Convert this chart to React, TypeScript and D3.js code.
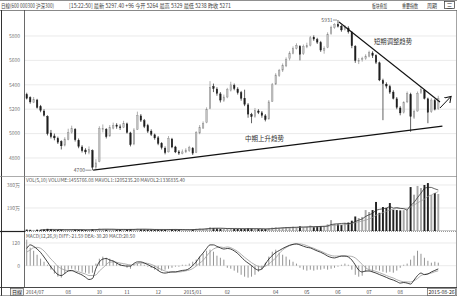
import React from 'react';
import * as d3 from 'd3';

const opens = [5320,5295,5255,5275,5220,5185,5140,5005,4980,4960,4935,4905,4950,5010,5035,4945,4890,4865,4845,4860,4725,4770,5035,5035,4980,5045,5070,5055,5050,5080,5005,4915,5035,5145,5105,5065,5020,4990,4965,4920,4880,4850,4955,4890,4850,4835,4850,4860,4880,4845,5005,5045,5090,5205,5385,5365,5325,5270,5300,5355,5395,5365,5335,5290,5235,5155,5140,5185,5170,5145,5120,5265,5405,5475,5520,5555,5615,5655,5700,5715,5655,5710,5725,5790,5770,5745,5680,5705,5820,5870,5895,5880,5855,5865,5830,5715,5600,5605,5615,5635,5660,5640,5580,5435,5405,5385,5340,5285,5210,5175,5260,5320,5135,5185,5335,5355,5285,5180,5270,5205];
const highs = [5335,5305,5300,5285,5235,5200,5150,5030,5000,4975,4945,4970,5040,5065,5045,4960,4905,4880,4895,4870,4790,5060,5075,5045,5070,5090,5085,5075,5105,5090,5015,5045,5180,5160,5120,5080,5035,5000,4980,4930,4895,4980,4965,4900,4865,4870,4880,4900,4890,5020,5070,5100,5215,5430,5410,5380,5340,5320,5375,5425,5410,5380,5350,5360,5250,5170,5210,5200,5185,5160,5275,5415,5495,5530,5575,5625,5675,5715,5740,5725,5730,5745,5800,5805,5785,5760,5715,5830,5885,5905,5931,5890,5890,5880,5840,5725,5620,5630,5650,5680,5675,5650,5590,5450,5420,5400,5355,5300,5225,5265,5345,5335,5195,5345,5385,5365,5295,5290,5285,5310];
const lows = [5280,5245,5250,5205,5175,5140,4985,4960,4945,4915,4870,4895,4945,5000,4935,4880,4845,4830,4830,4700,4705,4765,5010,4960,4975,5035,5040,5030,5045,5000,4895,4905,5030,5095,5045,5005,4980,4950,4905,4870,4830,4845,4880,4840,4825,4830,4840,4850,4825,4840,4995,5040,5085,5200,5340,5310,5255,5260,5290,5345,5355,5320,5270,5225,5130,5085,5130,5160,5130,5100,5115,5260,5400,5465,5505,5545,5600,5650,5690,5600,5645,5700,5715,5760,5735,5670,5655,5700,5810,5860,5870,5835,5845,5820,5700,5580,5570,5590,5605,5625,5620,5570,5430,5110,5370,5325,5280,5200,5150,5165,5250,5015,5120,5180,5325,5280,5085,5170,5190,5195];
const closes = [5290,5260,5280,5215,5190,5150,5000,4975,4965,4930,4900,4955,5010,5040,4950,4895,4860,4850,4870,4725,4760,5040,5040,4975,5050,5065,5060,5050,5085,5010,4910,5030,5150,5110,5060,5020,4995,4965,4920,4885,4845,4960,4890,4850,4840,4850,4865,4885,4840,5010,5050,5085,5200,5380,5370,5330,5275,5300,5360,5400,5370,5335,5290,5240,5160,5140,5190,5175,5150,5115,5260,5400,5480,5515,5560,5610,5660,5700,5720,5650,5715,5720,5785,5775,5750,5685,5700,5815,5870,5895,5880,5850,5870,5835,5720,5600,5600,5615,5635,5665,5640,5585,5440,5410,5390,5340,5290,5215,5170,5255,5330,5140,5180,5330,5360,5290,5175,5275,5200,5290];
const volumes = [12,10,9,11,10,12,18,14,10,9,11,10,12,13,11,10,9,8,10,16,14,20,15,12,14,13,12,11,13,12,15,14,18,15,13,12,11,10,11,12,11,16,13,12,10,11,10,12,13,18,20,17,22,30,25,22,18,17,20,22,18,17,16,18,22,20,16,17,15,16,22,28,30,26,28,30,32,35,30,38,30,35,45,32,38,40,41,55,90,60,55,50,66,70,85,120,107,116,173,157,173,240,150,198,190,231,175,173,170,172,173,363,300,372,355,380,396,297,314,306];
const diffs = [91,110,102,88,70,46,20,-7,-28,-47,-52,-41,-28,-25,-33,-41,-49,-61,-73,-68,-15,20,35,38,30,25,14,4,0,-2,-2,12,20,20,14,6,-4,-12,-25,-36,-39,-36,-33,-33,-29,-25,-23,-15,1,20,46,67,91,110,110,102,94,88,91,88,78,65,46,28,14,1,-15,-23,-17,9,35,54,70,80,91,100,108,113,115,110,103,97,94,86,78,71,62,51,44,41,46,51,51,46,30,4,-23,-33,-28,-28,-33,-39,-47,-54,-62,-70,-76,-84,-92,-89,-92,-97,-76,-52,-39,-47,-44,-33,-25,-17];
const deas = [72,83,95,97,92,78,57,35,17,-4,-15,-23,-26,-28,-28,-32,-38,-44,-52,-52,-49,-28,-12,6,19,20,18,14,11,7,4,7,12,14,14,12,7,-1,-12,-21,-28,-32,-33,-33,-33,-31,-27,-23,-15,-2,14,28,51,72,88,96,99,96,99,95,86,75,60,44,30,16,5,-4,-7,-3,9,25,41,65,83,96,106,112,115,115,112,106,98,92,84,77,69,60,54,51,51,51,51,51,49,41,25,7,-11,-21,-25,-30,-37,-44,-52,-59,-65,-74,-81,-85,-86,-86,-79,-68,-52,-46,-42,-39,-32,-27];
const macdBars = [138,95,79,58,37,21,5,-21,-42,-58,-63,-42,-21,-16,-21,-26,-32,-37,-42,-37,11,37,48,42,37,26,16,11,5,-11,-16,5,11,11,5,-5,-11,-21,-26,-26,-21,-16,-11,-5,-5,5,5,11,21,32,48,63,79,85,74,53,42,32,-11,-16,-26,-37,-48,-58,-63,-58,-48,-32,-21,16,48,74,85,69,58,48,32,21,11,-11,-21,-26,-21,-26,-21,-21,-16,-21,-16,-11,-5,5,11,5,-21,-48,-58,-53,-32,-26,-32,-21,-26,-32,-37,-32,-37,-26,-11,5,11,32,53,79,63,42,26,16,21,16];

const priceTicks = [4800, 5000, 5200, 5400, 5600, 5800];
const volTicks = [190, 380];
const volTickLabels = ['190万', '380万'];
const macdTicks = [0, 120];
const monthLabels = ['08', '10', '11', '12', '2015/01', '02', '04', '05', '06', '07', '08'];
const monthIdx = [12, 21, 29, 38, 48, 58, 72, 81, 90, 99, 108];
const upTrend = [{ i: 19.2, p: 4700 }, { i: 120.2, p: 5062 }];
const downTrend = [{ i: 90.3, p: 5915 }, { i: 119.5, p: 5259 }];
const arrowPts = [{ i: 119.5, p: 5210 }, { i: 122.7, p: 5305 }];

const FONT = '"Noto Sans CJK SC", "DejaVu Sans", sans-serif';

export default function App() {
  const W = 457, H = 296;
  const N = closes.length;
  const x = d3.scaleLinear().domain([-0.5, N - 0.5]).range([25, 440]);
  const yP = d3.scaleLinear().domain([4800, 5800]).range([158, 36]);
  const yV = d3.scaleLinear().domain([0, 380]).range([231, 185]);
  const yM = d3.scaleLinear().domain([0, 120]).range([265.7, 243]);
  const step = x(1) - x(0);

  const ma = (arr: number[], n: number) =>
    arr.map((_, i) => (i < n - 1 ? null : d3.mean(arr.slice(i - n + 1, i + 1)) as number));
  const ma5 = ma(volumes, 5);
  const ma10 = ma(volumes, 10);
  const volLine = d3.line<number | null>()
    .defined((d) => d !== null)
    .x((_, i) => x(i))
    .y((d) => yV(d as number));
  const macdLine = d3.line<number>().x((_, i) => x(i)).y((d) => yM(d)).curve(d3.curveMonotoneX);
  const trendLine = d3.line<{ i: number; p: number }>().x((d) => x(d.i)).y((d) => yP(d.p));

  const peakI = highs.indexOf(d3.max(highs) as number);
  const lowI = lows.indexOf(d3.min(lows) as number);

  return (
    <svg width={W} height={H} style={{ position: 'absolute', left: 0, top: 0, background: '#fff' }} fontFamily={FONT}>
      <defs>
        <marker id="ah" markerWidth="8" markerHeight="8" refX="6" refY="4" orient="auto" markerUnits="userSpaceOnUse">
          <path d="M0,0 L6,4 L0,8" fill="none" stroke="#111" strokeWidth="1" />
        </marker>
      </defs>
      <rect x={0} y={0} width={W} height={H} fill="#fff" />
      {/* header */}
      <text x={1} y={7.5} fontSize={6} fill="#444" textLength={53} lengthAdjust="spacingAndGlyphs">日線(600 000300 沪深300)</text>
      <text x={69} y={7.5} fontSize={6} fill="#444" textLength={162} lengthAdjust="spacingAndGlyphs">[15:22:50] 最新 5297.40 +96 今开 5264 最高 5329 最低 5238 昨收 5271</text>
      <text x={372} y={7.5} fontSize={6} fill="#444" textLength={15} lengthAdjust="spacingAndGlyphs">板块叠加</text>
      <text x={402} y={7.5} fontSize={6} fill="#444" textLength={16} lengthAdjust="spacingAndGlyphs">重要指数</text>
      <text x={427} y={7.5} fontSize={6} fill="#444" textLength={10} lengthAdjust="spacingAndGlyphs">周期</text>
      <rect x={444.5} y={1.5} width={10} height={7} fill="none" stroke="#333" strokeWidth={0.7} />
      <text x={449.5} y={7.5} fontSize={6} fill="#333" textAnchor="middle">三</text>

      {/* frame lines */}
      <line x1={0} x2={W} y1={0.5} y2={0.5} stroke="#444" strokeWidth={0.6} />
      <line x1={0} x2={W} y1={10.5} y2={10.5} stroke="#555" strokeWidth={0.7} />
      <line x1={1.5} x2={1.5} y1={10} y2={H} stroke="#333" strokeWidth={1} />
      <line x1={24.5} x2={24.5} y1={10} y2={287} stroke="#444" strokeWidth={0.8} />
      <line x1={456.5} x2={456.5} y1={10} y2={H} stroke="#666" strokeWidth={0.6} />
      <line x1={0} x2={W} y1={176.5} y2={176.5} stroke="#888" strokeWidth={0.7} />
      <line x1={0} x2={25} y1={231.5} y2={231.5} stroke="#222" strokeWidth={1.2} />
      <line x1={25} x2={W} y1={231.5} y2={231.5} stroke="#999" strokeWidth={1.2} strokeDasharray="1,1" />
      <line x1={0} x2={W} y1={287.5} y2={287.5} stroke="#333" strokeWidth={0.9} />
      <line x1={0} x2={W} y1={295.5} y2={295.5} stroke="#666" strokeWidth={0.6} />

      {/* price grid */}
      {priceTicks.map((t) => (
        <g key={'p' + t}>
          <line x1={25} x2={456} y1={yP(t)} y2={yP(t)} stroke="#dcdcdc" strokeWidth={0.6} />
          <text x={20} y={yP(t) + 1.8} fontSize={5} fill="#777" textAnchor="end">{t}</text>
        </g>
      ))}
      {/* volume grid */}
      {volTicks.map((t, k) => (
        <g key={'v' + t}>
          <line x1={25} x2={456} y1={yV(t)} y2={yV(t)} stroke="#dcdcdc" strokeWidth={0.6} />
          <text x={20} y={yV(t) + 1.8} fontSize={5} fill="#777" textAnchor="end">{volTickLabels[k]}</text>
        </g>
      ))}
      <line x1={25} x2={456} y1={yV(0) - 0.5} y2={yV(0) - 0.5} stroke="#aaa" strokeWidth={0.6} />
      {/* macd grid */}
      {macdTicks.map((t) => (
        <g key={'m' + t}>
          <line x1={25} x2={456} y1={yM(t)} y2={yM(t)} stroke="#dcdcdc" strokeWidth={0.6} />
          <text x={20} y={yM(t) + 1.8} fontSize={5} fill="#777" textAnchor="end">{t}</text>
        </g>
      ))}

      {/* candles */}
      {closes.map((c, i) => {
        const o = opens[i];
        const up = c >= o;
        const col = up ? '#8c8c8c' : '#1e1e1e';
        const cx = x(i);
        const top = yP(Math.max(o, c));
        const bot = yP(Math.min(o, c));
        return (
          <g key={'c' + i}>
            <line x1={cx} x2={cx} y1={yP(highs[i])} y2={yP(lows[i])} stroke={col} strokeWidth={0.7} />
            <rect x={cx - 0.75} y={top} width={1.5} height={Math.max(0.8, bot - top)} fill={up ? '#c2c2c2' : col} stroke={col} strokeWidth={0.4} />
          </g>
        );
      })}

      {/* trend lines */}
      <path d={trendLine(upTrend) as string} stroke="#111" strokeWidth={1.3} fill="none" />
      <path d={trendLine(downTrend) as string} stroke="#111" strokeWidth={1.1} fill="none" />
      <path d={trendLine(arrowPts) as string} stroke="#111" strokeWidth={1} fill="none" markerEnd="url(#ah)" />
      <text x={393} y={44} fontSize={6.3} fill="#333" textAnchor="middle" textLength={38} lengthAdjust="spacingAndGlyphs">短期调整趋势</text>
      <text x={264.5} y={141} fontSize={6.3} fill="#333" textAnchor="middle" textLength={39} lengthAdjust="spacingAndGlyphs">中期上升趋势</text>
      <line x1={x(peakI) - 5} x2={x(peakI) - 1} y1={yP(highs[peakI])} y2={yP(highs[peakI])} stroke="#555" strokeWidth={0.6} />
      <text x={x(peakI) - 5.5} y={yP(highs[peakI]) + 1.8} fontSize={5} fill="#555" textAnchor="end">{highs[peakI]}</text>
      <line x1={x(lowI) - 7} x2={x(lowI) - 1} y1={yP(lows[lowI])} y2={yP(lows[lowI])} stroke="#555" strokeWidth={0.6} />
      <text x={x(lowI) - 7.5} y={yP(lows[lowI]) + 1.8} fontSize={5} fill="#555" textAnchor="end">{lows[lowI]}</text>

      {/* volume */}
      <text x={26} y={182.3} fontSize={5} fill="#555" textLength={159} lengthAdjust="spacingAndGlyphs">VOL(5,10) VOLUME:1455766.08 MAVOL1:1205235.20 MAVOL2:1336835.40</text>
      {volumes.map((v, i) => {
        const up = closes[i] >= opens[i];
        return (
          <rect key={'vb' + i} x={x(i) - step * 0.28} y={yV(v)} width={step * 0.56} height={yV(0) - yV(v)}
            fill={up ? '#a8a8a8' : '#222'} />
        );
      })}
      <path d={volLine(ma10) as string} stroke="#999" strokeWidth={0.7} fill="none" />
      <path d={volLine(ma5) as string} stroke="#222" strokeWidth={0.7} fill="none" />

      {/* macd */}
      <text x={26} y={238} fontSize={5} fill="#555" textLength={109} lengthAdjust="spacingAndGlyphs">MACD(12,26,9) DIFF:-21.59 DEA:-30.20 MACD:20.50</text>
      {macdBars.map((v, i) => (
        <line key={'mb' + i} x1={x(i)} x2={x(i)} y1={yM(0)} y2={yM(v)} stroke="#888" strokeWidth={0.9} />
      ))}
      <path d={macdLine(deas) as string} stroke="#9a9a9a" strokeWidth={0.8} fill="none" />
      <path d={macdLine(diffs) as string} stroke="#111" strokeWidth={0.8} fill="none" />

      {/* x axis */}
      <rect x={10.5} y={288.5} width={13} height={7} fill="#eee" stroke="#444" strokeWidth={0.6} />
      <text x={17} y={294} fontSize={5} fill="#222" textAnchor="middle">日線</text>
      <text x={26} y={294} fontSize={4.8} fill="#444">2014/07</text>
      {monthLabels.map((m, k) => (
        <text key={'ml' + k} x={x(monthIdx[k])} y={294} fontSize={4.8} fill="#444" textAnchor="middle">{m}</text>
      ))}
      <rect x={427.5} y={288.5} width={28} height={7} fill="#fff" stroke="#444" strokeWidth={0.6} />
      <text x={441.5} y={294} fontSize={5} fill="#222" textAnchor="middle" textLength={26} lengthAdjust="spacingAndGlyphs">2015-08-26</text>
    </svg>
  );
}
